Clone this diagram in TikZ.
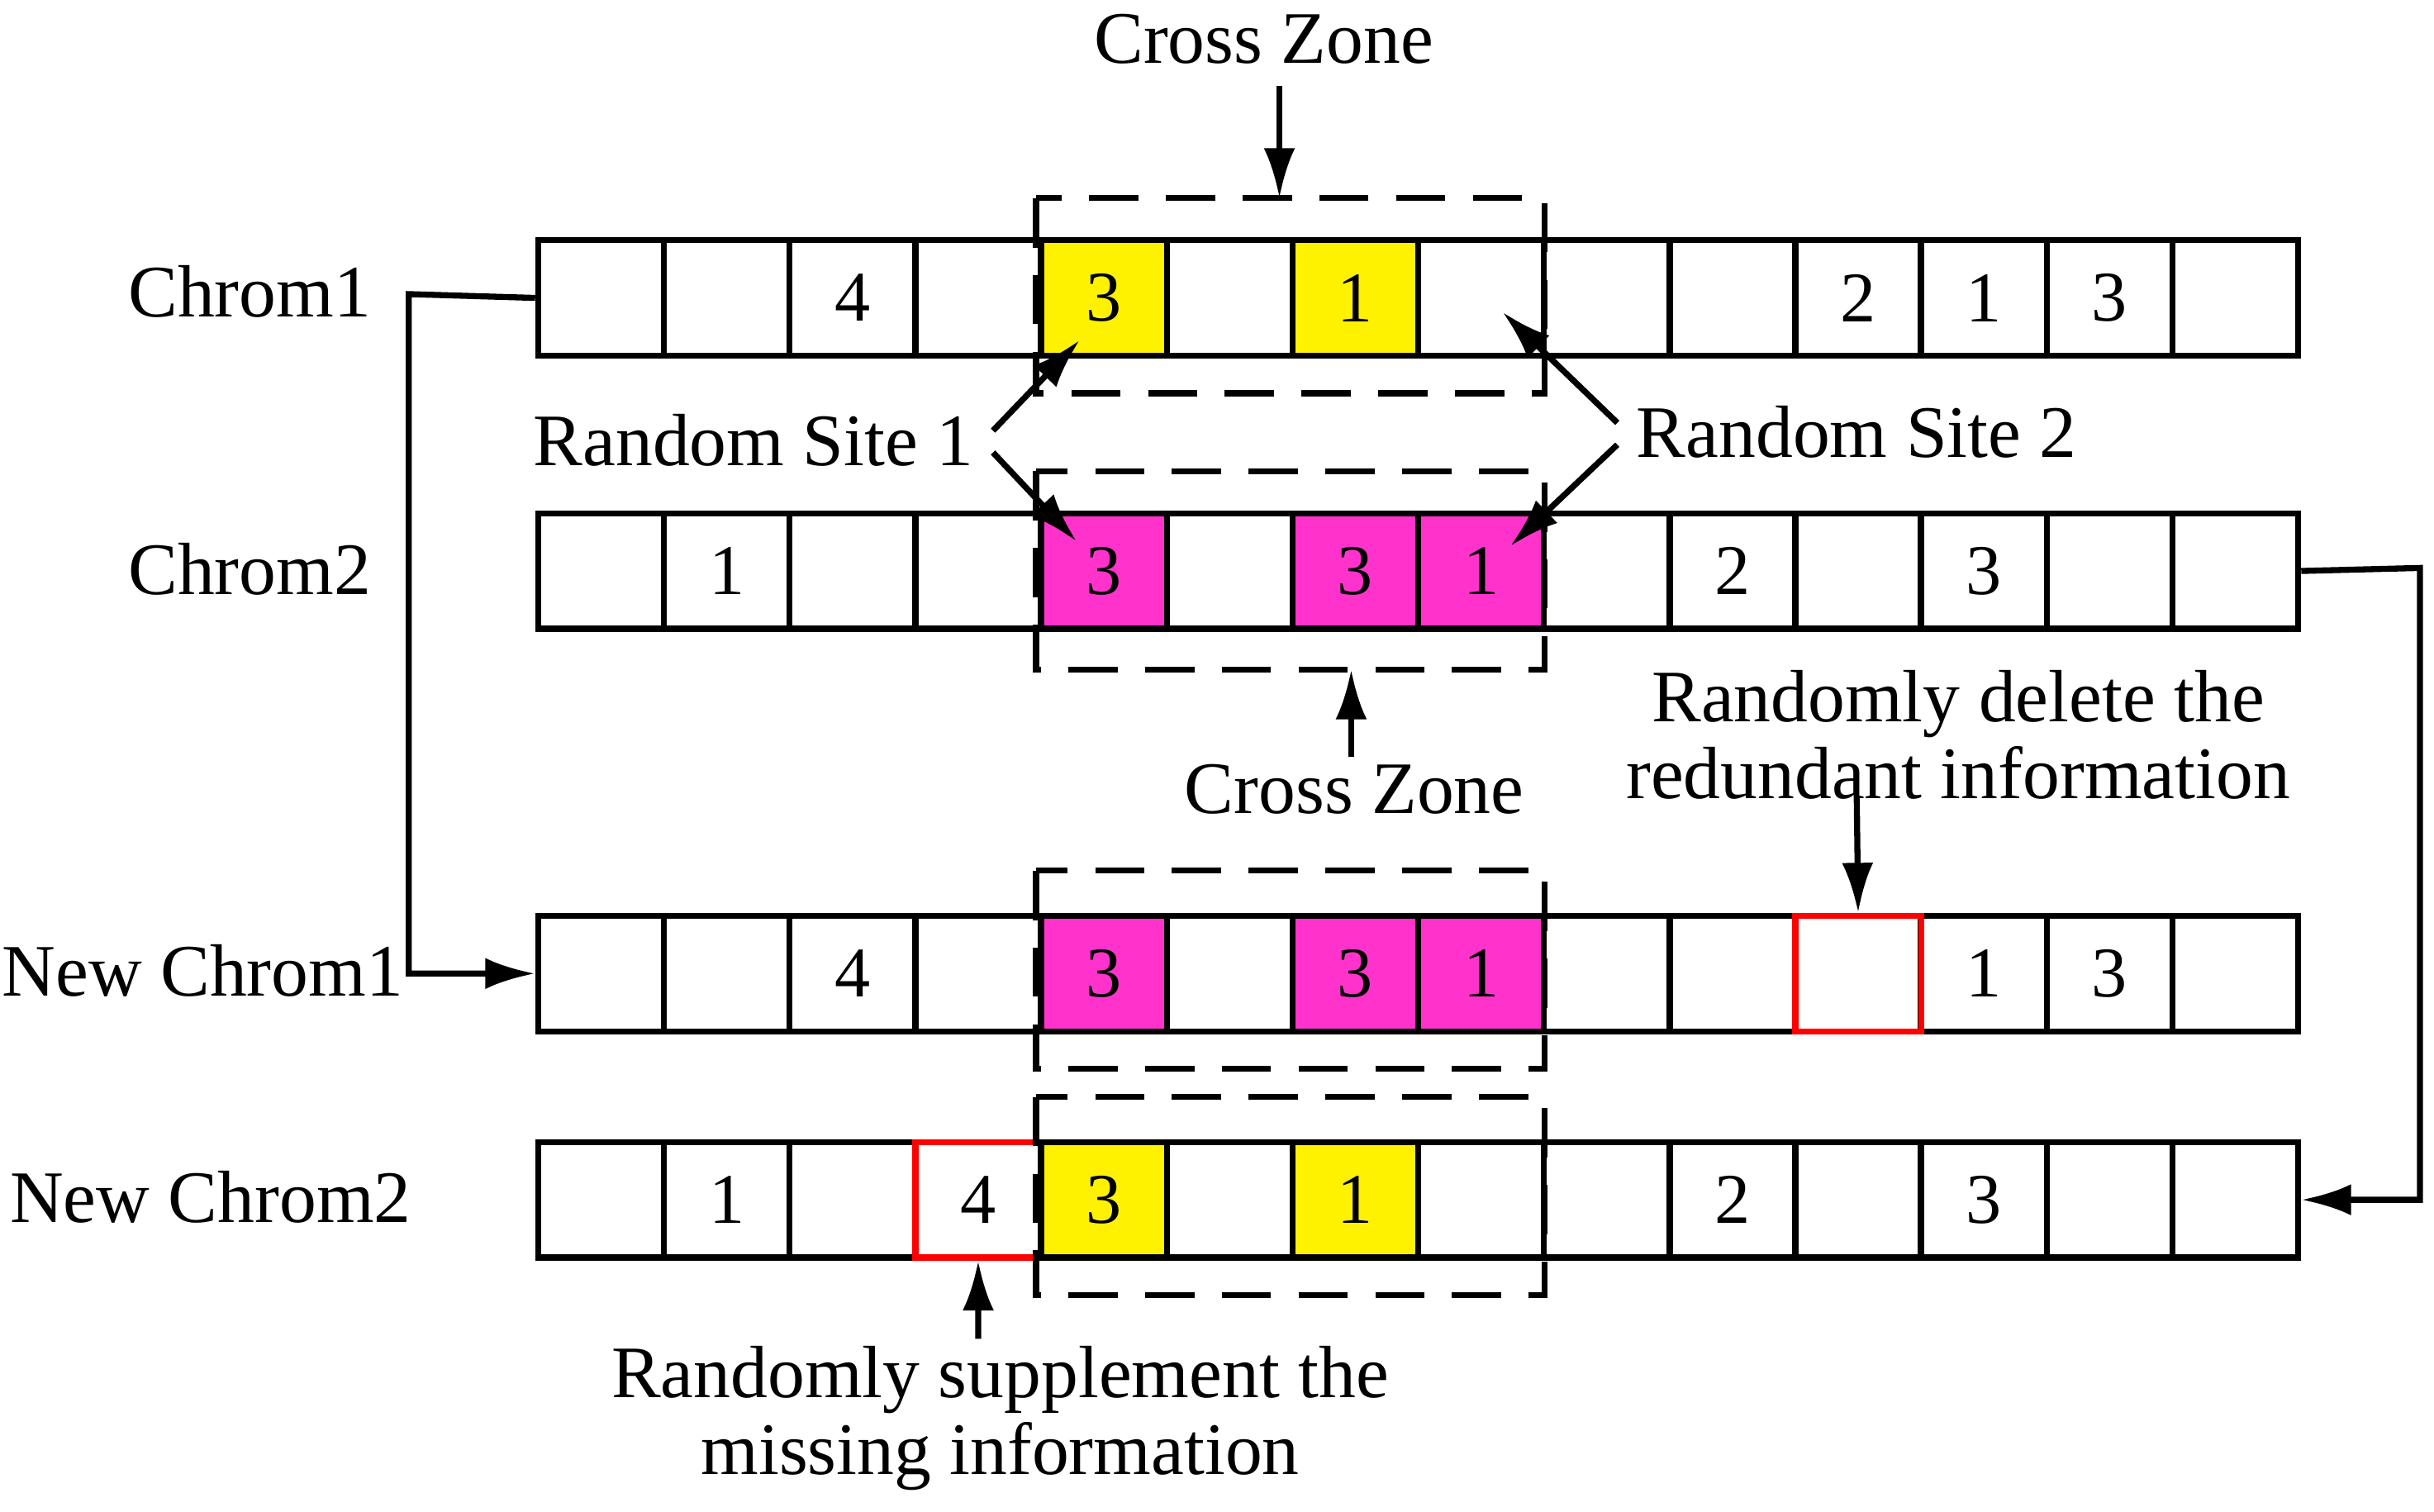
\documentclass[tikz,border=0pt]{standalone}
\usepackage{fontspec}
\setmainfont{Liberation Serif}
\usetikzlibrary{arrows.meta}
\begin{document}
\begin{tikzpicture}[x=0.1mm,y=-0.1mm,
 cell/.style={draw,line width=1.1pt,minimum width=8.06mm,minimum height=7.4mm,inner sep=0,anchor=north west,font=\fontsize{13}{15}\selectfont},
 yel/.style={fill=yellow},
 mag/.style={fill={rgb,255:red,255;green,51;blue,204}},
 redc/.style={draw=red},
 zone/.style={draw,dashed,line width=1.1pt,dash pattern=on 9pt off 5pt},
 arr/.style={line width=1.1pt,-{Latex[length=3.2mm,width=2mm]}},
 lbl/.style={font=\fontsize{13.5}{16}\selectfont,align=center}]
\useasboundingbox (0,0) rectangle (1560,969);
% rows
\foreach \r/\y in {1/152,2/327,3/585,4/730}{
  \foreach \c in {0,...,13}{
    \node[cell] (r\r c\c) at ({343+\c*80.57},\y) {};
  }}
% contents
\node[cell,yel] at (r1c4.north west) {3};
\node[cell,yel] at (r1c6.north west) {1};
\node at (r1c2) {\fontsize{13}{15}\selectfont 4};
\node at (r1c10) {\fontsize{13}{15}\selectfont 2};
\node at (r1c11) {\fontsize{13}{15}\selectfont 1};
\node at (r1c12) {\fontsize{13}{15}\selectfont 3};
\node at (r2c1) {\fontsize{13}{15}\selectfont 1};
\node[cell,mag] at (r2c4.north west) {3};
\node[cell,mag] at (r2c6.north west) {3};
\node[cell,mag] at (r2c7.north west) {1};
\node at (r2c9) {\fontsize{13}{15}\selectfont 2};
\node at (r2c11) {\fontsize{13}{15}\selectfont 3};
\node at (r3c2) {\fontsize{13}{15}\selectfont 4};
\node[cell,mag] at (r3c4.north west) {3};
\node[cell,mag] at (r3c6.north west) {3};
\node[cell,mag] at (r3c7.north west) {1};
\node[cell,redc] (del) at (r3c10.north west) {};
\node at (r3c11) {\fontsize{13}{15}\selectfont 1};
\node at (r3c12) {\fontsize{13}{15}\selectfont 3};
\node at (r4c1) {\fontsize{13}{15}\selectfont 1};
\node[cell,redc] (sup) at (r4c3.north west) {4};
\node[cell,yel] at (r4c4.north west) {3};
\node[cell,yel] at (r4c6.north west) {1};
\node at (r4c9) {\fontsize{13}{15}\selectfont 2};
\node at (r4c11) {\fontsize{13}{15}\selectfont 3};
% zones
\draw[zone] (664,127) rectangle (990,252);
\draw[zone] (664,302) rectangle (990,429);
\draw[zone] (664,558) rectangle (990,685);
\draw[zone] (664,703) rectangle (990,830);
\coordinate (z1) at (820,127);
\coordinate (z2) at (866,429);
% labels
\node[lbl] (c1) at (160,187) {Chrom1};
\node[lbl] (c2) at (160,365) {Chrom2};
\node[lbl] (n1) at (130,622) {New Chrom1};
\node[lbl] (n2) at (135,767) {New Chrom2};
\node[lbl] (cz1) at (810,25) {Cross Zone};
\node[lbl] (cz2) at (868,506) {Cross Zone};
\node[lbl] (rs1) at (483,282) {Random Site 1};
\node[lbl] (rs2) at (1190,277) {Random Site 2};
\node[lbl] (rd) at (1255,471) {Randomly delete the\\[-2pt]redundant information};
\node[lbl] (rsup) at (641,909) {Randomly supplement the\\[-2pt]missing information};
% arrows
\draw[arr] (820,55) -- (z1);
\draw[arr] (866,485) -- (z2);
\coordinate (a1) at (692,218); \coordinate (a2) at (690,347);
\coordinate (b1) at (963,200); \coordinate (b2) at (968,350);
\draw[arr] (rs1.east) ++(0,-6) -- (a1);
\draw[arr] (rs1.east) ++(0,8) -- (a2);
\draw[arr] (rs2.west) ++(0,-6) -- (b1);
\draw[arr] (rs2.west) ++(0,8) -- (b2);
\draw[arr] (1190,510) -- (del.north);
\draw[arr] (627,858) -- (sup.south);
\draw[arr] (r1c0.west) -- (262,188.5) |- (r3c0.west);
\draw[arr] (r2c13.east) -- (1551,364) |- (r4c13.east);
\end{tikzpicture}
\end{document}
